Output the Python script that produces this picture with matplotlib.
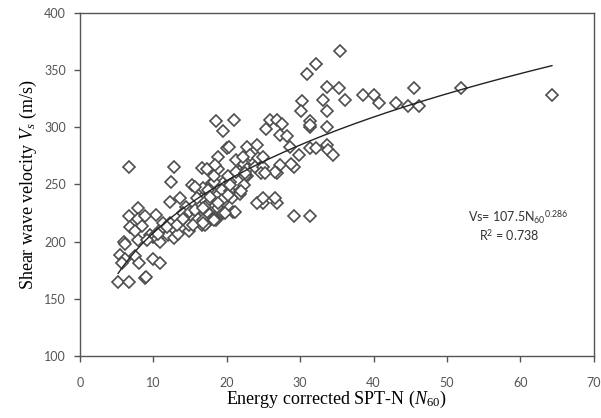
import numpy as np
import matplotlib.pyplot as plt

# SPT-N60 vs shear wave velocity
n60 = [5.2, 6.7, 8.8, 9.0,
       5.45, 6.1, 5.7, 7.5, 8.1, 10.0, 10.9,
       6.0, 6.2, 7.95, 9.5, 10.0, 10.5, 10.9, 10.9, 12.0, 12.8,
       6.7, 7.95, 7.95, 8.4, 6.8, 7.5, 10.4, 11.3, 12.3, 8.9, 9.1,
       6.7, 12.8, 12.4, 16.6, 15.2, 18.0,
       12.3, 13.6, 14.4, 16.6, 18.2, 19.5, 19.5,
       14.1, 15.0, 15.9, 16.8, 17.7, 18.6, 15.4, 16.3, 17.3,
       10.7, 13.4, 14.8, 11.8, 13.2, 14.8, 16.6, 14.1, 16.1, 17.9, 17.3, 15.7,
       17.9, 16.8, 15.7, 17.5, 19.3, 20.4, 21.8, 15.9, 17.7, 19.3, 20.7,
       17.0, 18.8, 20.9, 19.5, 18.2, 16.8, 15.4, 17.0,
       18.2, 20.4, 22.7, 22.2, 24.3, 18.8,
       18.5, 19.5, 18.8, 20.1,
       21.0, 25.9, 26.8, 27.5, 25.4, 27.2, 28.2,
       20.3, 22.7, 24.1, 21.3, 23.2, 24.3, 28.6, 29.9, 31.3, 32.2, 33.6, 33.8, 34.5,
       17.3, 18.4, 18.2, 20.2, 21.3, 22.3, 22.7, 23.8, 27.2, 26.8, 29.1, 25.0, 24.7, 22.5, 28.8, 26.6, 25.0, 22.2,
       29.1, 31.3, 26.8, 25.0, 24.1, 21.1, 19.8, 18.2, 16.8, 25.2, 22.5, 21.8, 20.2, 20.4, 18.8, 16.8, 22.3, 22.0, 26.6, 25.0,
       35.4, 32.2, 30.9, 33.6, 35.3, 38.5, 40.0, 36.1, 33.1, 30.2, 30.1, 33.6, 31.3, 31.3, 33.6, 31.3,
       40.8, 43.1, 44.7, 45.5, 46.2, 51.9, 64.3]
vs = [165, 165, 168, 169,
      188, 185, 181, 187, 181, 185, 181,
      200, 198, 201, 206, 204, 202, 210, 200, 206, 203,
      222, 229, 220, 214, 213, 209, 223, 216, 216, 222, 201,
      265, 265, 252, 264, 249, 251,
      235, 238, 230, 238, 230, 235, 251,
      225, 226, 225, 222, 221, 219, 219, 217, 216,
      207, 207, 209, 213, 214.5, 214.5, 214.5, 220, 220, 220, 226, 228,
      245, 247, 248, 245, 245, 244, 244, 238, 239, 236, 238,
      230, 229, 226, 225, 220, 219, 214.5, 214.5,
      252, 252, 257, 264, 264, 263,
      305, 297, 274, 282,
      306, 306, 306, 303, 298, 293, 292,
      283, 283, 284, 271, 276, 273, 283, 276, 281.5, 281.5, 284, 280, 276,
      263, 267, 257, 257, 261, 268, 263, 265.5, 267, 260, 265.5, 265.5, 260, 257, 268, 261, 274, 274,
      222, 222, 234, 234, 234, 226, 225, 219, 216, 260, 260, 242, 241, 249.5, 234, 229, 249.5, 244, 238, 238,
      366, 355, 346.5, 335, 334, 328, 328, 324, 324, 323, 314, 314, 305, 300, 300, 302,
      321, 321, 318.5, 334.5, 318, 334.5, 328]

# power-law fit shown on the chart
a, b = 107.5, 0.286

plt.rcParams['font.family'] = ['Lato', 'DejaVu Sans']
plt.rcParams['mathtext.fontset'] = 'custom'
plt.rcParams['mathtext.it'] = 'Liberation Serif:italic'
plt.rcParams['mathtext.rm'] = 'Liberation Serif'
plt.rcParams['mathtext.sf'] = 'Lato'

fig = plt.figure(figsize=(6.01, 4.18), dpi=100)
ax = fig.add_axes([0.133, 0.148, 0.855, 0.822])

ax.plot(n60, vs, 'D', ms=6.3, mfc='white', mec='#4d4d4d', mew=1.2, ls='none')
xf = np.linspace(min(n60), max(n60), 200)
ax.plot(xf, a * xf ** b, color='#222222', lw=1.0)

ax.text(52.9, 221.5, r'Vs= 107.5N$_{\mathsf{60}}$$^{\mathsf{0.286}}$', fontsize=9,
        color='#333333', va='center', ha='left')
ax.text(54.3, 205.8, r'R$^{\mathsf{2}}$ = 0.738', fontsize=9, color='#333333',
        va='center', ha='left')

ax.set_xlim(0, 70)
ax.set_ylim(100, 400)
ax.set_xticks(range(0, 71, 10))
ax.set_yticks(range(100, 401, 50))
ax.tick_params(axis='both', direction='out', length=4, width=1, color='#555555',
               labelsize=9, labelcolor='#555555')
ax.tick_params(axis='x', pad=11)
ax.tick_params(axis='y', pad=6)
for s in ax.spines.values():
    s.set_color('#555555')
    s.set_linewidth(1)

ax.set_xlabel('Energy corrected SPT-N ($N_{60}$)', fontfamily='Liberation Serif',
              fontsize=13, labelpad=0)
ax.set_ylabel('Shear wave velocity $V_s$ (m/s)', fontfamily='Liberation Serif',
              fontsize=13, labelpad=4)

fig.savefig('out.png', dpi=100)
